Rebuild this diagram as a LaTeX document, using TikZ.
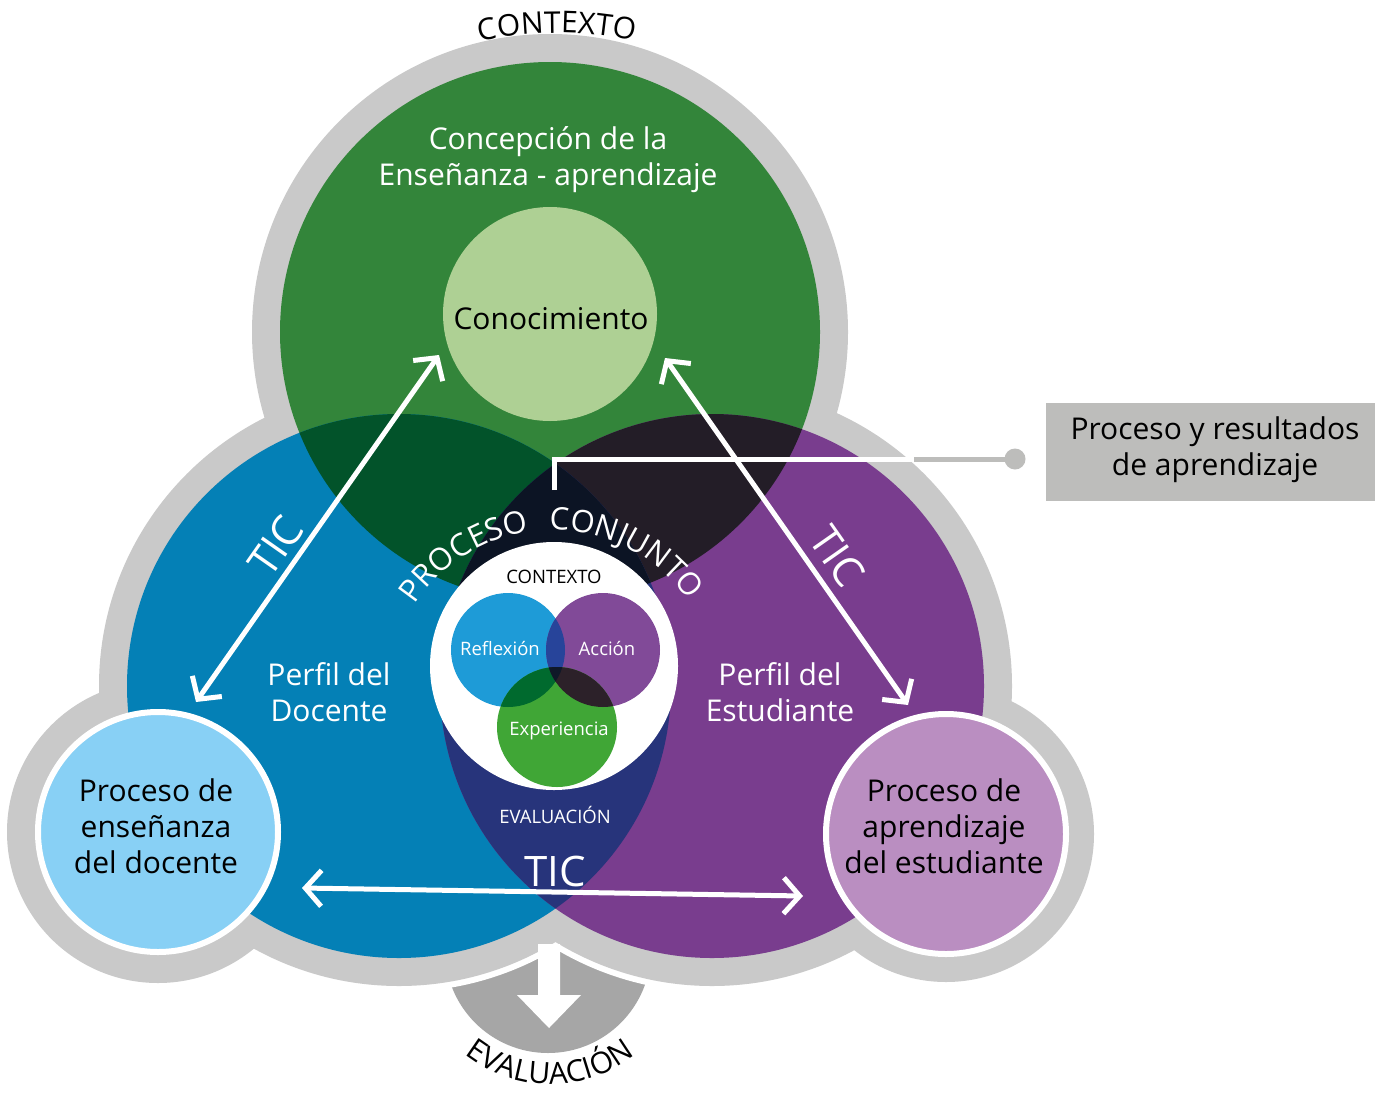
\documentclass[tikz,border=0pt]{standalone}
\usepackage{fontspec}
\setmainfont{Open Sans}
\usetikzlibrary{arrows.meta,decorations.text}
\definecolor{cgreen}{HTML}{33853A}
\definecolor{cblue}{HTML}{0480B6}
\definecolor{cpurple}{HTML}{793D8E}
\definecolor{cgb}{HTML}{02532A}
\definecolor{cgp}{HTML}{231D27}
\definecolor{cbp}{HTML}{27347B}
\definecolor{cgbp}{HTML}{0C1424}
\definecolor{clgreen}{HTML}{AED094}
\definecolor{clblue}{HTML}{88D0F5}
\definecolor{clpurple}{HTML}{BA8EC1}
\definecolor{cgray}{HTML}{C9C9C9}
\definecolor{cdgray}{HTML}{A6A6A6}
\definecolor{cbox}{HTML}{BDBDBB}
\definecolor{cref}{HTML}{1E9BD7}
\definecolor{cacc}{HTML}{814A98}
\definecolor{cexp}{HTML}{40A636}
\definecolor{cra}{HTML}{27449A}
\definecolor{cre}{HTML}{006A2E}
\definecolor{cae}{HTML}{2C2129}
\definecolor{crae}{HTML}{0F1828}
\begin{document}
\begin{tikzpicture}[x=1pt,y=-1pt,
  lbl/.style={align=center,inner sep=0pt,font={\fontsize{30}{36}\selectfont}},
  smalltxt/.style={align=center,inner sep=0pt,font={\fontsize{18.5}{22}\selectfont}},
  tic/.style={text=white,inner sep=0pt,font={\fontsize{42}{42}\selectfont}},
  dbl/.style={white,line width=5pt,{Straight Barb[length=16pt,width=36pt]}-{Straight Barb[length=16pt,width=36pt]}}]
\useasboundingbox (0,0) rectangle (1375,1092);
\fill[white] (0,0) rectangle (1375,1092);
% bottom bowl
\fill[cdgray] (548,950) circle[radius=103];
% gray context ring with white halo
\draw[white,line width=12pt] (550,332) circle[radius=298] (399,686) circle[radius=300] (712,686) circle[radius=300] (158,832) circle[radius=151] (946,834) circle[radius=148];
\fill[cgray] (550,332) circle[radius=298] (399,686) circle[radius=300] (712,686) circle[radius=300] (158,832) circle[radius=151] (946,834) circle[radius=148];
% white down arrow
\fill[white] (538,944) -- (560,944) -- (560,995) -- (581,995) -- (549,1028) -- (517,995) -- (538,995) -- cycle;
% big circles
\fill[cgreen] (550,332) circle[radius=270];
\fill[cblue] (399,686) circle[radius=272];
\fill[cpurple] (712,686) circle[radius=272];
\begin{scope}
  \clip (550,332) circle[radius=270];
  \fill[cgb] (399,686) circle[radius=272];
  \fill[cgp] (712,686) circle[radius=272];
\end{scope}
\begin{scope}
  \clip (399,686) circle[radius=272];
  \fill[cbp] (712,686) circle[radius=272];
\end{scope}
\begin{scope}
  \clip (550,332) circle[radius=270];
  \clip (399,686) circle[radius=272];
  \fill[cgbp] (712,686) circle[radius=272];
\end{scope}
% conocimiento
\fill[clgreen] (550,314) circle[radius=107];
% central white circle
\fill[white] (554,666) circle[radius=124];
\fill[cref] (508,650) circle[radius=57];
\fill[cacc] (603,650) circle[radius=57];
\fill[cexp] (557,727) circle[radius=60];
\begin{scope}
  \clip (508,650) circle[radius=57];
  \fill[cra] (603,650) circle[radius=57];
  \fill[cre] (557,727) circle[radius=60];
\end{scope}
\begin{scope}
  \clip (603,650) circle[radius=57];
  \fill[cae] (557,727) circle[radius=60];
\end{scope}
\begin{scope}
  \clip (508,650) circle[radius=57];
  \clip (603,650) circle[radius=57];
  \fill[crae] (557,727) circle[radius=60];
\end{scope}
% small process circles
\draw[white,line width=6pt,fill=clblue] (158,832) circle[radius=120];
\draw[white,line width=6pt,fill=clpurple] (946,834) circle[radius=120];
% connector to the box
\node[fill=cbox,minimum width=329pt,minimum height=98pt,inner sep=0pt] (box) at (1210.5,452) {};
\node[lbl] (boxtxt) at (1215,450) {Proceso y resultados\\de aprendizaje};
\node[circle,fill=cbox,minimum size=21pt,inner sep=0pt] (dot) at (1015,459) {};
\coordinate (jn) at (554,490);
\coordinate (jc) at (554,459);
\coordinate (je) at (914,459);
\draw[white,line width=5pt] (jn) -- (jc) -- (je);
\draw[cbox,line width=5pt] (je) -- (dot.center);
% TIC arrows
\coordinate (a1) at (439,355);
\coordinate (a2) at (196,702);
\coordinate (b1) at (665,358);
\coordinate (b2) at (908,705);
\coordinate (c1) at (302,888);
\coordinate (c2) at (803,896);
\draw[dbl] (a2) -- (a1);
\draw[dbl] (b1) -- (b2);
\draw[dbl] (c1) -- (c2);
% labels
\node[lbl,text=white] (conc) at (548,160) {Concepción de la\\Enseñanza - aprendizaje};
\node[lbl] (cono) at (551,319) {Conocimiento};
\node[lbl,text=white] (pd) at (329,692) {Perfil del\\Docente};
\node[lbl,text=white] (pe) at (780,692) {Perfil del\\Estudiante};
\node[lbl] (ped) at (156,826) {Proceso de\\enseñanza\\del docente};
\node[lbl] (pae) at (944,826) {Proceso de\\aprendizaje\\del estudiante};
\node[tic,rotate=55] (ticl) at (276,546) {TIC};
\node[tic,rotate=-55] (ticr) at (837,556) {TIC};
\node[tic] (ticb) at (555,871) {TIC};
\node[smalltxt] (ictx) at (554,577) {CONTEXTO};
\node[smalltxt,text=white] (ieval) at (555,815) {EVALUACIÓN};
\node[smalltxt,text=white] (refl) at (500,648) {Reflexión};
\node[smalltxt,text=white] (acc) at (607,648) {Acción};
\node[smalltxt,text=white] (expe) at (559,731) {Experiencia};
% curved texts
\path[decorate,decoration={text along path,text align=center,text={|\fontsize{30}{30}\selectfont|CONTEXTO}}]
  (557,400) ++(250:367) arc[start angle=250,end angle=290,radius=367];
\path[decorate,decoration={text along path,text align=center,text={|\fontsize{31}{31}\selectfont\color{white}|PROCESO}}]
  (553,695) ++(205:165) arc[start angle=205,end angle=270,radius=165];
\path[decorate,decoration={text along path,text align=center,text={|\fontsize{31}{31}\selectfont\color{white}|CONJUNTO}}]
  (553,695) ++(263:165) arc[start angle=263,end angle=331,radius=165];
\path[decorate,decoration={text along path,text align=center,text={|\fontsize{30}{30}\selectfont|EVALUACIÓN}}]
  (550,946) ++(150:138) arc[start angle=150,end angle=30,radius=138];
\end{tikzpicture}
\end{document}
